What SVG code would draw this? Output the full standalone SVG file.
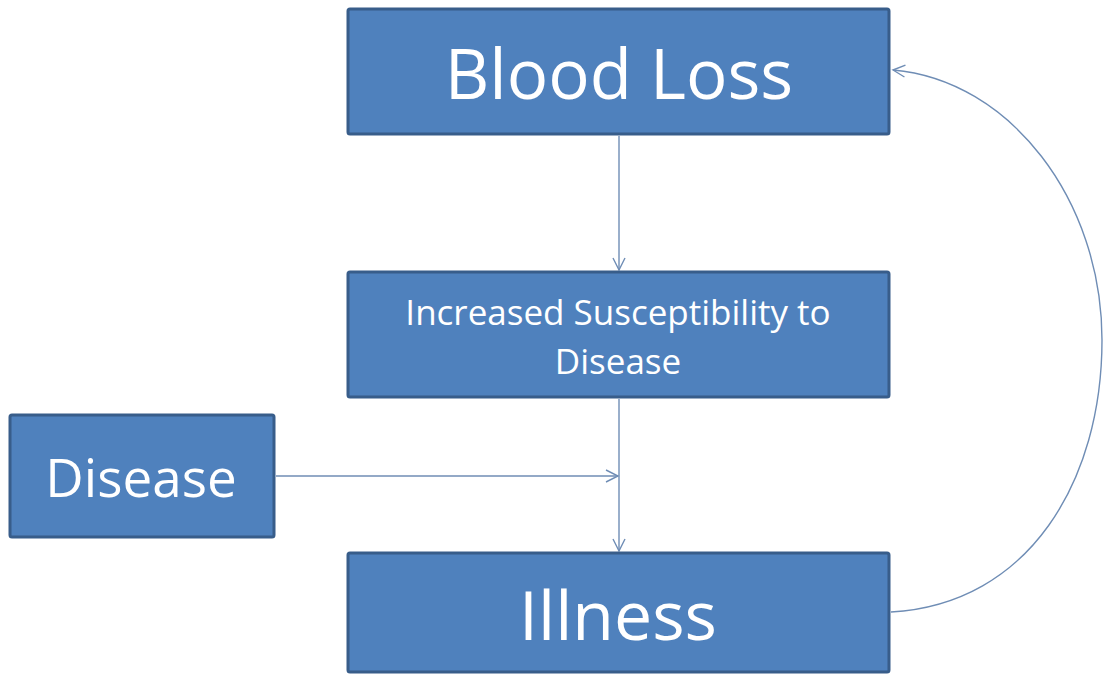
<svg xmlns="http://www.w3.org/2000/svg" width="1103" height="675" viewBox="0 0 1103 675">
<defs>
<style>
.box{fill:#4F81BD;stroke:#385D8A;stroke-width:3}
.t{fill:#FFFFFF;font-family:"Open Sans","Liberation Sans",sans-serif;text-anchor:middle}
.c{fill:none;stroke:#6F8DB5;stroke-width:1.4}
</style>
<marker id="ah" markerWidth="16" markerHeight="16" refX="14" refY="8" orient="auto" markerUnits="userSpaceOnUse">
<path d="M2,2 L14,8 L2,14" fill="none" stroke="#6F8DB5" stroke-width="1.4"/>
</marker>
</defs>
<rect width="1103" height="675" fill="#FFFFFF"/>
<g id="connectors">
<line class="c" x1="619" y1="136" x2="619" y2="270" marker-end="url(#ah)"/>
<line class="c" x1="619" y1="399" x2="619" y2="551" marker-end="url(#ah)"/>
<line class="c" x1="276" y1="476" x2="618" y2="476" marker-end="url(#ah)"/>
<path class="c" d="M891 612 C1030 604 1102 480 1102 340 C1102 200 1010 80 893 70" marker-end="url(#ah)"/>
</g>
<g id="blood-loss">
<rect class="box" x="348" y="9" width="541" height="125" rx="2"/>
<text class="t" x="619" y="99" font-size="69">Blood Loss</text>
</g>
<g id="susceptibility">
<rect class="box" x="348" y="272" width="541" height="125" rx="2"/>
<text class="t" x="618" y="325" font-size="35">Increased Susceptibility to</text>
<text class="t" x="618" y="374" font-size="35">Disease</text>
</g>
<g id="disease">
<rect class="box" x="10" y="415" width="264" height="122" rx="2"/>
<text class="t" x="141" y="497" font-size="53">Disease</text>
</g>
<g id="illness">
<rect class="box" x="348" y="553" width="541" height="119" rx="2"/>
<text class="t" x="618" y="640" font-size="68">Illness</text>
</g>
</svg>
